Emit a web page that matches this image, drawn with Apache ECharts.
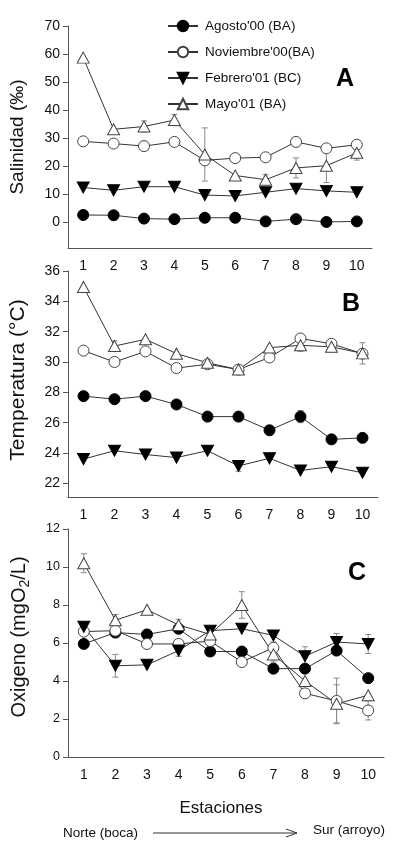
<!DOCTYPE html>
<html>
<head>
<meta charset="utf-8">
<script src="https://cdn.jsdelivr.net/npm/echarts@6/dist/echarts.min.js"></script>
<style>
html,body{margin:0;padding:0;background:#fff;}
#chart{width:394px;height:852px;}
</style>
</head>
<body>
<div id="chart"></div>
<script>
// ---- data ----
const stations = ['1','2','3','4','5','6','7','8','9','10'];
const seriesNames = ["Agosto'00 (BA)", "Noviembre'00(BA)", "Febrero'01 (BC)", "Mayo'01 (BA)"];

const salTicks = [0, 10, 20, 30, 40, 50, 60, 70];
const salAgosto = [2.5, 2.4, 1.2, 1.0, 1.5, 1.5, 0.2, 1.0, 0.0, 0.2];
const salNov    = [28.8, 28.0, 27.1, 28.6, 22.0, 22.8, 23.1, 28.6, 26.3, 27.6];
const salFeb    = [12.3, 11.3, 12.6, 12.6, 9.6, 9.3, 10.6, 11.9, 11.1, 10.6];
const salMayo   = [58.7, 33.1, 34.1, 36.4, 24.1, 16.6, 15.1, 19.3, 20.1, 24.7];
const salMayoErr= [0, 0, 2, 2, 9.5, 0, 1.8, 3.6, 6, 2.6];

const tempTicks = [22, 24, 26, 28, 30, 32, 34, 36];
const tempAgosto = [27.75, 27.55, 27.75, 27.2, 26.4, 26.4, 25.5, 26.4, 24.9, 25.0];
const tempNov    = [30.75, 30.0, 30.7, 29.6, 29.85, 29.5, 30.3, 31.55, 31.2, 30.55];
const tempFeb    = [23.6, 24.15, 23.9, 23.7, 24.15, 23.15, 23.65, 22.85, 23.1, 22.7];
const tempMayo   = [34.95, 31.05, 31.5, 30.55, 29.95, 29.5, 30.95, 31.1, 31.0, 30.57];
const tempAgostoErr = [0, 0, 0, 0, 0, 0, 0, 0.4, 0, 0];
const tempFebErr    = [0, 0, 0, 0, 0, 0.35, 0, 0, 0, 0];
const tempMayoErr   = [0, 0.35, 0, 0, 0, 0.3, 0, 0.4, 0.35, 0.7];

const oxTicks = [0, 2, 4, 6, 8, 10, 12];
const oxAgosto = [5.95, 6.55, 6.45, 6.75, 5.55, 5.55, 4.65, 4.65, 5.6, 4.15];
const oxNov    = [6.6, 6.65, 5.95, 5.95, 6.1, 5.0, 5.75, 3.35, 2.95, 2.45];
const oxFeb    = [6.85, 4.8, 4.85, 5.6, 6.65, 6.75, 6.4, 5.3, 6.05, 5.95];
const oxMayo   = [10.2, 7.2, 7.75, 6.95, 6.45, 8.0, 5.4, 4.0, 2.8, 3.25];
const oxNovErr  = [0.15, 0.25, 0, 0, 0, 0, 0.3, 0, 1.2, 0.5];
const oxFebErr  = [0.25, 0.6, 0, 0.3, 0, 0, 0, 0.5, 0.45, 0.5];
const oxMayoErr = [0.5, 0.3, 0, 0.3, 0, 0.7, 0.4, 0, 1.0, 0];

// ---- styling ----
const FONT = 'Liberation Sans, Arial, Helvetica, sans-serif';
const AX = '#555';
const LINE = '#333';
const ERR = '#8a8a8a';
const triDown = 'path://M0,0 L20,0 L10,18 Z';
const markerStyles = [
  {symbol: 'circle', symbolSize: 11, itemStyle: {color: '#000', borderColor: '#000', borderWidth: 1}},
  {symbol: 'circle', symbolSize: 11, itemStyle: {color: '#fff', borderColor: '#444', borderWidth: 1}},
  {symbol: triDown, symbolSize: [12, 11], itemStyle: {color: '#000', borderColor: '#000', borderWidth: 1}},
  {symbol: 'triangle', symbolSize: [12, 11], itemStyle: {color: '#fff', borderColor: '#444', borderWidth: 1}}
];

const grids = [
  {left: 68, top: 26, width: 304, height: 222},
  {left: 68, top: 271, width: 310, height: 226},
  {left: 68, top: 529, width: 316, height: 228}
];

const panels = [
  {vals: [salAgosto, salNov, salFeb, salMayo], errs: [null, null, null, salMayoErr], min: -9.3, max: 70, ticks: salTicks, yFont: 14},
  {vals: [tempAgosto, tempNov, tempFeb, tempMayo], errs: [tempAgostoErr, null, tempFebErr, tempMayoErr], min: 21.1, max: 36, ticks: tempTicks, yFont: 14},
  {vals: [oxAgosto, oxNov, oxFeb, oxMayo], errs: [null, oxNovErr, oxFebErr, oxMayoErr], min: 0, max: 12, ticks: oxTicks, yFont: 12.5}
];

const xAxes = grids.map((g, i) => ({
  type: 'category', gridIndex: i, data: stations, boundaryGap: true,
  axisLine: {onZero: false, lineStyle: {color: AX, width: 1}},
  axisTick: {alignWithLabel: true, inside: true, length: 6, lineStyle: {color: AX}},
  axisLabel: {interval: 0, fontSize: 14, color: '#111', fontFamily: FONT, margin: 11},
  splitLine: {show: false}
}));

const yAxes = panels.map((p, i) => ({
  type: 'value', gridIndex: i, min: p.min, max: p.max,
  axisLine: {show: true, onZero: false, lineStyle: {color: AX, width: 1}},
  axisTick: {show: true, length: 5, customValues: p.ticks, lineStyle: {color: AX}},
  axisLabel: {customValues: p.ticks, fontSize: p.yFont, color: '#111', fontFamily: FONT, margin: 8},
  splitLine: {show: false}
}));

const series = [];
panels.forEach((p, gi) => {
  // error bars
  const errData = [];
  p.errs.forEach((e, si) => {
    if (!e) return;
    e.forEach((v, k) => { if (v > 0) errData.push([k, p.vals[si][k], v]); });
  });
  series.push({
    type: 'custom', xAxisIndex: gi, yAxisIndex: gi, z: 1, silent: true,
    data: errData,
    renderItem: function (params, api) {
      const x = api.value(0), y = api.value(1), e = api.value(2);
      const hi = api.coord([x, y + e]);
      const lo = api.coord([x, y - e]);
      const w = 3;
      const st = {stroke: ERR, lineWidth: 1};
      return {type: 'group', children: [
        {type: 'line', shape: {x1: hi[0], y1: hi[1], x2: lo[0], y2: lo[1]}, style: st},
        {type: 'line', shape: {x1: hi[0] - w, y1: hi[1], x2: hi[0] + w, y2: hi[1]}, style: st},
        {type: 'line', shape: {x1: lo[0] - w, y1: lo[1], x2: lo[0] + w, y2: lo[1]}, style: st}
      ]};
    }
  });
  p.vals.forEach((vals, si) => {
    const m = markerStyles[si];
    series.push({
      name: seriesNames[si], type: 'line', xAxisIndex: gi, yAxisIndex: gi, z: 3,
      data: vals, symbol: m.symbol, symbolSize: m.symbolSize,
      itemStyle: m.itemStyle,
      lineStyle: {color: LINE, width: 1},
      emphasis: {disabled: true}, animation: false
    });
  });
});

const chart = echarts.init(document.getElementById('chart'), null, {renderer: 'canvas'});
chart.setOption({
  backgroundColor: '#fff',
  animation: false,
  grid: grids,
  xAxis: xAxes,
  yAxis: yAxes,
  legend: {
    orient: 'vertical', left: 162, top: 14, itemWidth: 30, itemHeight: 13, itemGap: 12,
    data: seriesNames, selectedMode: false,
    textStyle: {fontSize: 13.5, color: '#111', fontFamily: FONT, padding: [0, 0, 0, 2]}
  },
  graphic: [
    {type: 'text', x: 18, y: 137, rotation: Math.PI / 2, style: {text: 'Salinidad (‰)', font: '19px ' + FONT, fill: '#111', textAlign: 'center', textVerticalAlign: 'middle'}},
    {type: 'text', x: 18, y: 380, rotation: Math.PI / 2, style: {text: 'Temperatura (°C)', font: '21px ' + FONT, fill: '#111', textAlign: 'center', textVerticalAlign: 'middle'}},
    {type: 'text', x: 19, y: 637, rotation: Math.PI / 2, style: {
      text: '{n|Oxigeno (mgO}{s|2}{n|/L)}', textAlign: 'center', textVerticalAlign: 'middle',
      rich: {n: {fontSize: 20, fontFamily: FONT, fill: '#111', lineHeight: 26, verticalAlign: 'middle'},
             s: {fontSize: 14, fontFamily: FONT, fill: '#111', lineHeight: 26, verticalAlign: 'bottom'}}}},
    {type: 'text', x: 345, y: 79, style: {text: 'A', font: 'bold 25px ' + FONT, fill: '#000', textAlign: 'center', textVerticalAlign: 'middle'}},
    {type: 'text', x: 351, y: 304, style: {text: 'B', font: 'bold 25px ' + FONT, fill: '#000', textAlign: 'center', textVerticalAlign: 'middle'}},
    {type: 'text', x: 357, y: 573, style: {text: 'C', font: 'bold 25px ' + FONT, fill: '#000', textAlign: 'center', textVerticalAlign: 'middle'}},
    {type: 'text', x: 221, y: 808, style: {text: 'Estaciones', font: '17px ' + FONT, fill: '#111', textAlign: 'center', textVerticalAlign: 'middle'}},
    {type: 'text', x: 63, y: 833, style: {text: 'Norte (boca)', font: '13.5px ' + FONT, fill: '#111', textAlign: 'left', textVerticalAlign: 'middle'}},
    {type: 'text', x: 313, y: 830, style: {text: 'Sur (arroyo)', font: '13.5px ' + FONT, fill: '#111', textAlign: 'left', textVerticalAlign: 'middle'}},
    {type: 'polyline', shape: {points: [[153, 833], [297, 833]]}, style: {stroke: '#333', lineWidth: 1}},
    {type: 'polyline', shape: {points: [[286, 829], [297, 833], [286, 837]]}, style: {stroke: '#333', lineWidth: 1, fill: null}}
  ],
  series: series
});
</script>
</body>
</html>
